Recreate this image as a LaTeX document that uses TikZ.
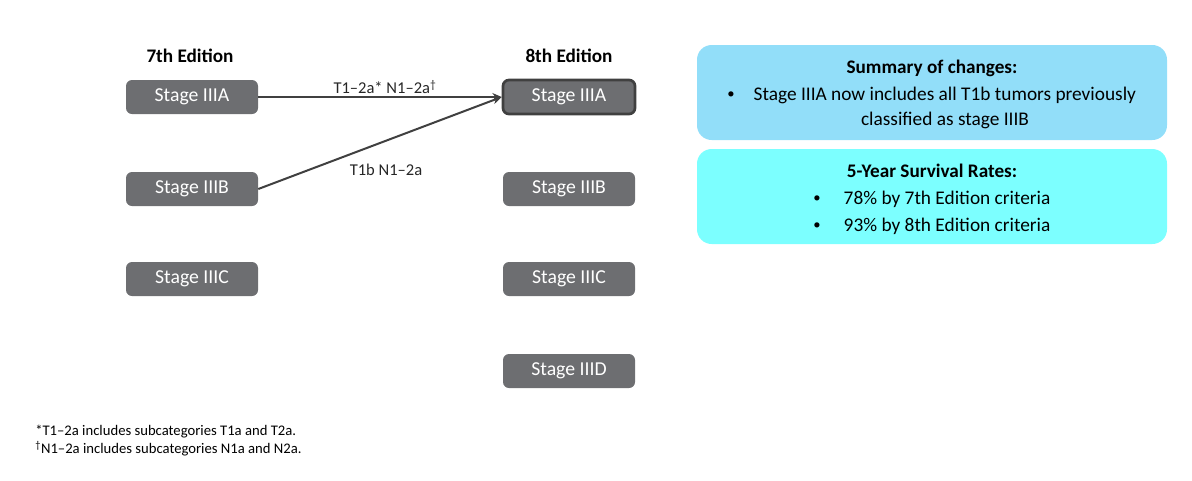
\documentclass[tikz,border=0pt]{standalone}
\usepackage{fontspec}
\setmainfont{Carlito}
\usetikzlibrary{arrows.meta, positioning}
\definecolor{stagegray}{RGB}{109,110,113}
\definecolor{edgegray}{RGB}{64,64,64}
\definecolor{summaryblue}{RGB}{146,222,249}
\definecolor{survivalcyan}{RGB}{124,255,255}

\tikzset{
    stagebox/.style={rectangle, rounded corners=4.5pt, fill=stagegray, text=white,
        minimum width=99pt, minimum height=25.5pt, inner sep=0pt, font=\fontsize{14.8}{17}\selectfont},
    infobox/.style={rectangle, rounded corners=11pt, minimum width=352.5pt, inner sep=0pt},
    movearrow/.style={draw=edgegray, line width=1.5pt, -{Stealth[length=7pt, width=6pt]}},
    heading/.style={font=\fontsize{14.4}{17}\selectfont\bfseries},
    body/.style={font=\fontsize{14.5}{17}\selectfont},
    dot/.style={font=\fontsize{11}{13}\selectfont},
    edgelabel/.style={font=\fontsize{12.4}{14}\selectfont, text=black!85}
}

\begin{document}
\begin{tikzpicture}[x=0.75pt, y=-0.75pt]
    \useasboundingbox (0,0) rectangle (1192,480);

    % column headings
    \node[heading] (ed7) at (190,56) {7th Edition};
    \node[heading] (ed8) at (569,56) {8th Edition};

    % 7th edition stages
    \node[stagebox] (a7) at (192,97) {Stage IIIA};
    \node[stagebox] (b7) at (192,189) {Stage IIIB};
    \node[stagebox] (c7) at (192,279) {Stage IIIC};

    % 8th edition stages
    \node[stagebox, draw=edgegray, line width=2pt] (a8) at (569,97) {Stage IIIA};
    \node[stagebox] (b8) at (569,189) {Stage IIIB};
    \node[stagebox] (c8) at (569,279) {Stage IIIC};
    \node[stagebox] (d8) at (569,371) {Stage IIID};

    % reassignments
    \draw[movearrow] (a7.east) -- (a8.west);
    \draw[movearrow] (b7.east) -- (a8.west);
    \node[edgelabel] (lab1) at (385,87) {T1–2a* N1–2a\textsuperscript{†}};
    \node[edgelabel] (lab2) at (386,170) {T1b N1–2a};

    % summary box
    \node[infobox, fill=summaryblue, minimum height=71.25pt] (summary) at (932,92.5) {};
    \node[heading] (sumtitle) at (932,68) {Summary of changes:};
    \node[dot] (sumdot) at (731,95) {•};
    \node[body, anchor=west] (sumline1) at (749,95) {Stage IIIA now includes all T1b tumors previously};
    \node[body] (sumline2) at (945,120) {classified as stage IIIB};

    % survival box
    \node[infobox, fill=survivalcyan, minimum height=71.25pt] (survival) at (932,196.5) {};
    \node[heading] (survtitle) at (932,171) {5-Year Survival Rates:};
    \node[dot] (survdot1) at (817,199) {•};
    \node[body, anchor=west] (surv1) at (839,199) {78\% by 7th Edition criteria};
    \node[dot] (survdot2) at (817,226) {•};
    \node[body, anchor=west] (surv2) at (839,226) {93\% by 8th Edition criteria};

    % footnotes
    \node[anchor=west, font=\fontsize{11}{13}\selectfont, inner sep=0pt] (note1) at (35,432) {*T1–2a includes subcategories T1a and T2a.};
    \node[anchor=west, font=\fontsize{11}{13}\selectfont, inner sep=0pt] (note2) at (35,449) {\textsuperscript{†}N1–2a includes subcategories N1a and N2a.};
\end{tikzpicture}
\end{document}
